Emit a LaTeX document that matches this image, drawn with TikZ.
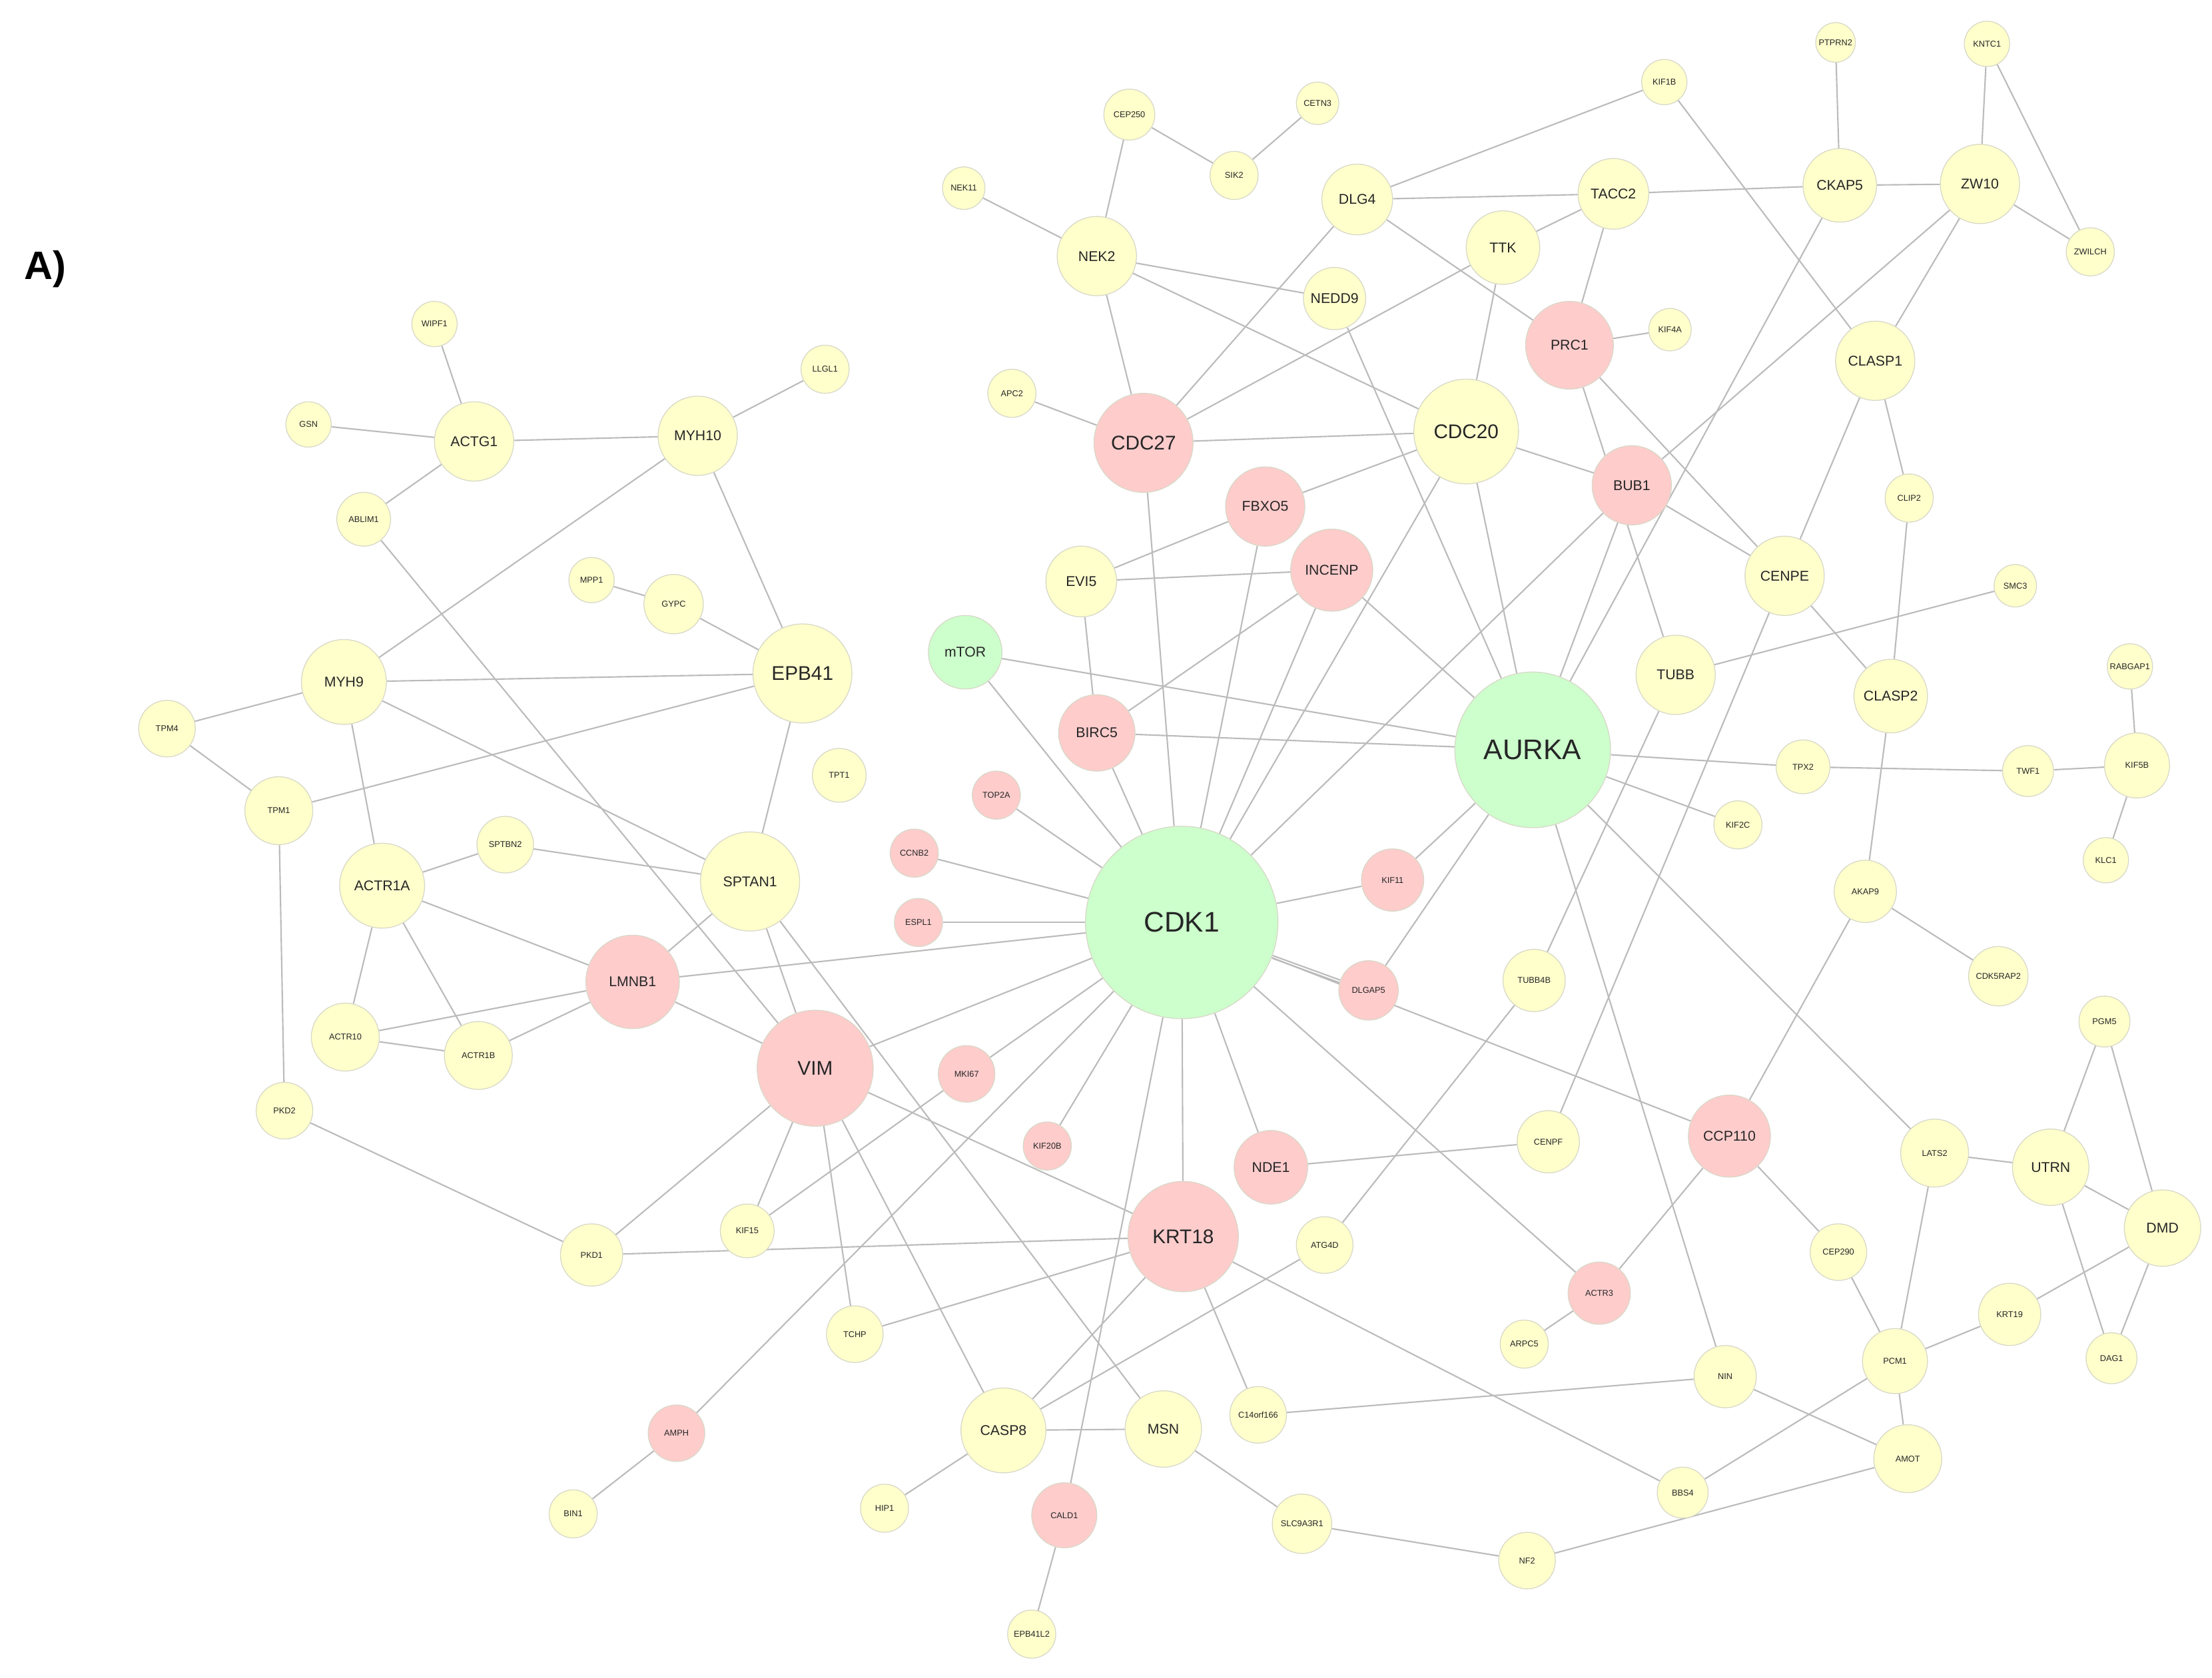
\documentclass[tikz,border=0pt]{standalone}
\usepackage{fontspec}
\setmainfont{Liberation Sans}
\usetikzlibrary{backgrounds}
\definecolor{Yf}{HTML}{FFFFCC}
\definecolor{Pf}{HTML}{FFCCCC}
\definecolor{Gf}{HTML}{CCFFCC}
\definecolor{Bd}{HTML}{D8D8C8}
\definecolor{Ed}{HTML}{BBBBBB}
\begin{document}
\begin{tikzpicture}[x=1pt,y=-1pt,
  nd/.style={circle,draw=Bd,line width=0.6pt,inner sep=0pt,minimum size=#1*2pt,text=black!85},
  Y/.style={fill=Yf},P/.style={fill=Pf},G/.style={fill=Gf},
  s/.style={font=\fontsize{6}{7}\selectfont},
  m/.style={font=\fontsize{10}{12}\selectfont},
  l/.style={font=\fontsize{14}{16}\selectfont},
  xl/.style={font=\fontsize{20}{24}\selectfont},
  e/.style={draw=Ed,line width=1pt}]
\useasboundingbox (0,0) rectangle (1563,1186);
\node[font=\fontsize{28}{32}\selectfont\bfseries] (lab) at (32,190) {A)};
\node[nd=16,Y,s] (KIF1B) at (1176,58) {KIF1B};
\node[nd=14,Y,s] (PTPRN2) at (1297,30) {PTPRN2};
\node[nd=16,Y,s] (KNTC1) at (1404,31) {KNTC1};
\node[nd=18,Y,s] (CEP250) at (798,81) {CEP250};
\node[nd=15,Y,s] (CETN3) at (931,73) {CETN3};
\node[nd=17,Y,s] (SIK2) at (872,124) {SIK2};
\node[nd=15,Y,s] (NEK11) at (681,133) {NEK11};
\node[nd=25,Y,m] (DLG4) at (959,141) {DLG4};
\node[nd=25,Y,m] (TACC2) at (1140,137) {TACC2};
\node[nd=26,Y,m] (CKAP5) at (1300,131) {CKAP5};
\node[nd=28,Y,m] (ZW10) at (1399,130) {ZW10};
\node[nd=17,Y,s] (ZWILCH) at (1477,178) {ZWILCH};
\node[nd=28,Y,m] (NEK2) at (775,181) {NEK2};
\node[nd=26,Y,m] (TTK) at (1062,175) {TTK};
\node[nd=22,Y,m] (NEDD9) at (943,211) {NEDD9};
\node[nd=15,Y,s] (KIF4A) at (1180,233) {KIF4A};
\node[nd=31,P,m] (PRC1) at (1109,244) {PRC1};
\node[nd=28,Y,m] (CLASP1) at (1325,255) {CLASP1};
\node[nd=17,Y,s] (APC2) at (715,278) {APC2};
\node[nd=35,P,l] (CDC27) at (808,313) {CDC27};
\node[nd=37,Y,l] (CDC20) at (1036,305) {CDC20};
\node[nd=28,P,m] (FBXO5) at (894,358) {FBXO5};
\node[nd=28,P,m] (BUB1) at (1153,343) {BUB1};
\node[nd=17,Y,s] (CLIP2) at (1349,352) {CLIP2};
\node[nd=25,Y,m] (EVI5) at (764,411) {EVI5};
\node[nd=29,P,m] (INCENP) at (941,403) {INCENP};
\node[nd=28,Y,m] (CENPE) at (1261,407) {CENPE};
\node[nd=15,Y,s] (SMC3) at (1424,414) {SMC3};
\node[nd=26,G,m] (mTOR) at (682,461) {mTOR};
\node[nd=28,Y,m] (TUBB) at (1184,477) {TUBB};
\node[nd=55,G,xl] (AURKA) at (1083,530) {AURKA};
\node[nd=26,Y,m] (CLASP2) at (1336,492) {CLASP2};
\node[nd=16,Y,s] (RABGAP1) at (1505,471) {RABGAP1};
\node[nd=27,P,m] (BIRC5) at (775,518) {BIRC5};
\node[nd=19,Y,s] (TPX2) at (1274,542) {TPX2};
\node[nd=18,Y,s] (TWF1) at (1433,545) {TWF1};
\node[nd=23,Y,s] (KIF5B) at (1510,541) {KIF5B};
\node[nd=16,Y,s] (KLC1) at (1488,608) {KLC1};
\node[nd=17,P,s] (TOP2A) at (704,562) {TOP2A};
\node[nd=17,Y,s] (KIF2C) at (1228,583) {KIF2C};
\node[nd=17,P,s] (CCNB2) at (646,603) {CCNB2};
\node[nd=68,G,xl] (CDK1) at (835,652) {CDK1};
\node[nd=22,P,s] (KIF11) at (984,622) {KIF11};
\node[nd=22,Y,s] (AKAP9) at (1318,630) {AKAP9};
\node[nd=17,P,s] (ESPL1) at (649,652) {ESPL1};
\node[nd=21,P,s] (DLGAP5) at (967,700) {DLGAP5};
\node[nd=22,Y,s] (TUBB4B) at (1084,693) {TUBB4B};
\node[nd=21,Y,s] (CDK5RAP2) at (1412,690) {CDK5RAP2};
\node[nd=18,Y,s] (PGM5) at (1487,722) {PGM5};
\node[nd=20,P,s] (MKI67) at (683,759) {MKI67};
\node[nd=17,P,s] (KIF20B) at (740,810) {KIF20B};
\node[nd=26,P,m] (NDE1) at (898,825) {NDE1};
\node[nd=22,Y,s] (CENPF) at (1094,807) {CENPF};
\node[nd=29,P,m] (CCP110) at (1222,803) {CCP110};
\node[nd=24,Y,s] (LATS2) at (1367,815) {LATS2};
\node[nd=27,Y,m] (UTRN) at (1449,825) {UTRN};
\node[nd=27,Y,m] (DMD) at (1528,868) {DMD};
\node[nd=39,P,l] (KRT18) at (836,874) {KRT18};
\node[nd=20,Y,s] (ATG4D) at (936,880) {ATG4D};
\node[nd=20,Y,s] (CEP290) at (1299,885) {CEP290};
\node[nd=22,P,s] (ACTR3) at (1130,914) {ACTR3};
\node[nd=22,Y,s] (KRT19) at (1420,929) {KRT19};
\node[nd=17,Y,s] (ARPC5) at (1077,950) {ARPC5};
\node[nd=23,Y,s] (PCM1) at (1339,962) {PCM1};
\node[nd=18,Y,s] (DAG1) at (1492,960) {DAG1};
\node[nd=22,Y,s] (NIN) at (1219,973) {NIN};
\node[nd=20,Y,s] (C14) at (889,1000) {C14orf166};
\node[nd=30,Y,m] (CASP8) at (709,1011) {CASP8};
\node[nd=27,Y,m] (MSN) at (822,1010) {MSN};
\node[nd=24,Y,s] (AMOT) at (1348,1031) {AMOT};
\node[nd=20,P,s] (AMPH) at (478,1013) {AMPH};
\node[nd=18,Y,s] (BBS4) at (1189,1055) {BBS4};
\node[nd=17,Y,s] (HIP1) at (625,1066) {HIP1};
\node[nd=23,P,s] (CALD1) at (752,1071) {CALD1};
\node[nd=21,Y,s] (SLC) at (920,1077) {SLC9A3R1};
\node[nd=20,Y,s] (NF2) at (1079,1103) {NF2};
\node[nd=17,Y,s] (BIN1) at (405,1070) {BIN1};
\node[nd=17,Y,s] (EPB41L2) at (729,1155) {EPB41L2};
\node[nd=41,P,l] (VIM) at (576,755) {VIM};
\node[nd=33,P,m] (LMNB1) at (447,694) {LMNB1};
\node[nd=35,Y,m] (SPTAN1) at (530,623) {SPTAN1};
\node[nd=30,Y,m] (ACTR1A) at (270,626) {ACTR1A};
\node[nd=20,Y,s] (SPTBN2) at (357,597) {SPTBN2};
\node[nd=24,Y,s] (ACTR10) at (244,733) {ACTR10};
\node[nd=24,Y,s] (ACTR1B) at (338,746) {ACTR1B};
\node[nd=19,Y,s] (KIF15) at (528,870) {KIF15};
\node[nd=22,Y,s] (PKD1) at (418,887) {PKD1};
\node[nd=20,Y,s] (TCHP) at (604,943) {TCHP};
\node[nd=20,Y,s] (PKD2) at (201,785) {PKD2};
\node[nd=24,Y,s] (TPM1) at (197,573) {TPM1};
\node[nd=20,Y,s] (TPM4) at (118,515) {TPM4};
\node[nd=30,Y,m] (MYH9) at (243,482) {MYH9};
\node[nd=35,Y,l] (EPB41) at (567,476) {EPB41};
\node[nd=19,Y,s] (TPT1) at (593,548) {TPT1};
\node[nd=16,Y,s] (MPP1) at (418,410) {MPP1};
\node[nd=21,Y,s] (GYPC) at (476,427) {GYPC};
\node[nd=28,Y,m] (MYH10) at (493,308) {MYH10};
\node[nd=28,Y,m] (ACTG1) at (335,312) {ACTG1};
\node[nd=19,Y,s] (ABLIM1) at (257,367) {ABLIM1};
\node[nd=16,Y,s] (WIPF1) at (307,229) {WIPF1};
\node[nd=16,Y,s] (GSN) at (218,300) {GSN};
\node[nd=17,Y,s] (LLGL1) at (583,261) {LLGL1};
\begin{scope}[on background layer]
\foreach \a/\b in {KIF1B/DLG4,KIF1B/CLASP1,PTPRN2/CKAP5,KNTC1/ZW10,KNTC1/ZWILCH,ZW10/ZWILCH,CKAP5/ZW10,TACC2/CKAP5,DLG4/TACC2,TACC2/TTK,TACC2/PRC1,DLG4/PRC1,DLG4/CDC27,CEP250/SIK2,CETN3/SIK2,CEP250/NEK2,NEK11/NEK2,NEK2/NEDD9,NEK2/CDC20,NEK2/CDC27,TTK/CDC27,TTK/CDC20,PRC1/KIF4A,PRC1/TUBB,PRC1/CENPE,NEDD9/AURKA,CKAP5/AURKA,ZW10/BUB1,ZW10/CLASP1,CLASP1/CLIP2,CLASP1/CENPE,CLIP2/CLASP2,CENPE/CLASP2,BUB1/CENPE,CDC20/BUB1,CDC27/CDC20,CDC27/APC2,CDC27/CDK1,FBXO5/CDC20,FBXO5/EVI5,FBXO5/CDK1,EVI5/INCENP,EVI5/BIRC5,INCENP/AURKA,INCENP/CDK1,INCENP/BIRC5,CDC20/AURKA,CDC20/CDK1,BUB1/CDK1,BUB1/AURKA,mTOR/AURKA,mTOR/CDK1,BIRC5/AURKA,BIRC5/CDK1,TUBB/SMC3,TUBB/TUBB4B,CENPE/CENPF,CLASP2/AKAP9,AURKA/TPX2,TPX2/TWF1,TWF1/KIF5B,RABGAP1/KIF5B,KIF5B/KLC1,AURKA/KIF2C,KIF11/AURKA,AURKA/DLGAP5,AURKA/LATS2,AURKA/NIN,AKAP9/CDK5RAP2,AKAP9/CCP110,TOP2A/CDK1,CCNB2/CDK1,ESPL1/CDK1,KIF11/CDK1,CDK1/DLGAP5,CDK1/CCP110,CDK1/NDE1,CDK1/KRT18,CDK1/ACTR3,CDK1/MKI67,CDK1/KIF20B,CDK1/LMNB1,CDK1/VIM,CDK1/AMPH,CDK1/CALD1,MKI67/KIF15,ATG4D/TUBB4B,CASP8/ATG4D,NDE1/CENPF,CCP110/CEP290,CCP110/ACTR3,ACTR3/ARPC5,CEP290/PCM1,LATS2/UTRN,LATS2/PCM1,UTRN/PGM5,UTRN/DMD,UTRN/DAG1,PGM5/DMD,DMD/KRT19,DMD/DAG1,KRT19/PCM1,PCM1/AMOT,PCM1/BBS4,NIN/AMOT,NIN/C14,AMOT/NF2,NF2/SLC,KRT18/BBS4,KRT18/VIM,PKD1/KRT18,KRT18/TCHP,KRT18/CASP8,KRT18/C14,MSN/CASP8,MSN/SLC,MSN/SPTAN1,CASP8/VIM,CASP8/HIP1,CALD1/EPB41L2,AMPH/BIN1,VIM/TCHP,VIM/KIF15,VIM/PKD1,VIM/LMNB1,VIM/SPTAN1,VIM/ABLIM1,LMNB1/SPTAN1,LMNB1/ACTR1A,LMNB1/ACTR10,LMNB1/ACTR1B,ACTR1A/ACTR10,ACTR1A/ACTR1B,ACTR10/ACTR1B,ACTR1A/MYH9,SPTBN2/SPTAN1,SPTBN2/ACTR1A,SPTAN1/EPB41,SPTAN1/MYH9,PKD1/PKD2,PKD2/TPM1,TPM1/TPM4,TPM4/MYH9,TPM1/EPB41,MYH9/EPB41,MYH9/MYH10,MYH10/EPB41,MYH10/ACTG1,MYH10/LLGL1,ACTG1/WIPF1,ACTG1/GSN,ACTG1/ABLIM1,MPP1/GYPC,GYPC/EPB41}
  \draw[e] (\a) -- (\b);
\draw[e] ([yshift=-2pt]CDK1.-20) -- ([yshift=-2pt]DLGAP5.160);
\end{scope}
\end{tikzpicture}
\end{document}
